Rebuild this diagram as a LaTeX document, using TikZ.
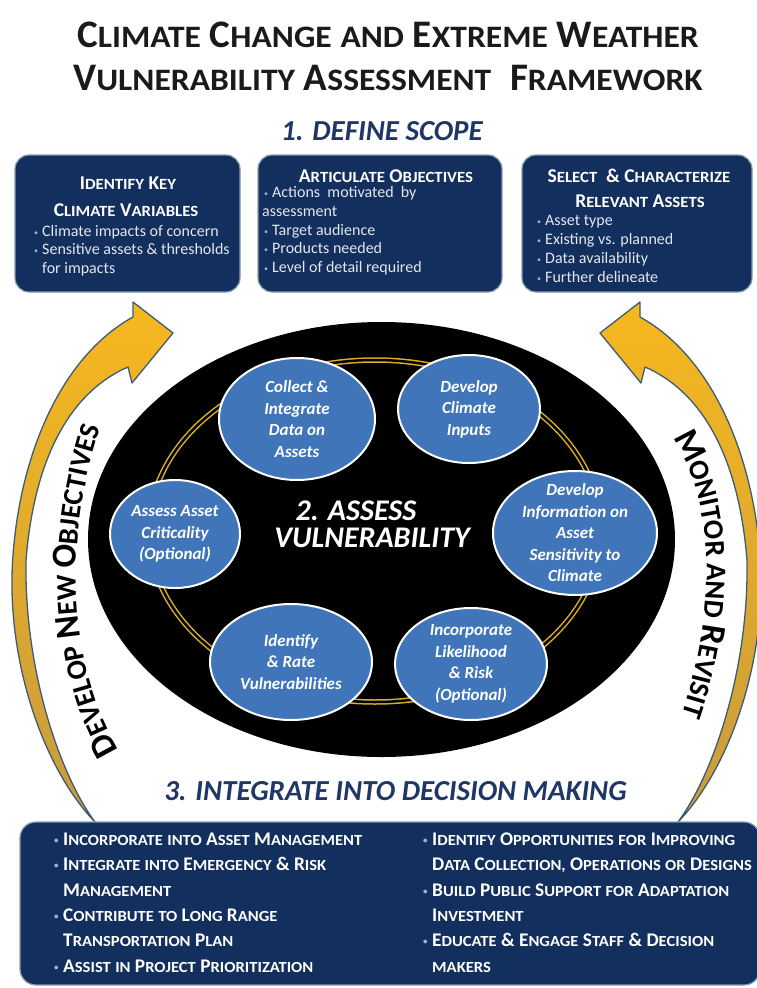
\documentclass[tikz,border=0pt]{standalone}
\usepackage{fontspec}
\setmainfont{Carlito}
\usetikzlibrary{shapes.geometric,decorations.text}
\definecolor{navy}{HTML}{132F5E}
\definecolor{boxedge}{HTML}{8A9BB3}
\definecolor{ellblue}{HTML}{4076B9}
\definecolor{ttl}{HTML}{1F3766}
\definecolor{titlecol}{HTML}{1A1A1A}
\definecolor{arrgold}{HTML}{F6B81E}
\definecolor{arrgoldmid}{HTML}{EDB025}
\definecolor{arrgolddk}{HTML}{C99B3E}
\definecolor{arrline}{HTML}{3E5C72}
\definecolor{ringgold}{HTML}{D9AE2B}
\definecolor{bulcol}{HTML}{9FB0C8}
\definecolor{txtlight}{HTML}{E3E7EE}
\newcommand\SC[2]{#1\scalebox{0.86}[0.8]{#2}}
\newcommand\SM[1]{\scalebox{0.86}[0.8]{#1}}
\newcommand\bul{\makebox[8pt][l]{\color{bulcol}\fontsize{8}{8}\selectfont\raisebox{1pt}{•}}}
\newcommand\bbul{\makebox[9pt][l]{\color{bulcol}\fontsize{9}{9}\selectfont\raisebox{2pt}{•}}}
\newcommand\arcbig{\fontsize{35}{35}\selectfont\bfseries}
\newcommand\arcsml{\fontsize{28.5}{28.5}\selectfont\bfseries}
\begin{document}
\begin{tikzpicture}[x=1pt,y=-1pt,
  topbox/.style={draw=boxedge,line width=1.2pt,fill=navy,rounded corners=14pt,inner sep=0pt},
  bluell/.style={ellipse,draw=white,line width=2pt,fill=ellblue,inner sep=0pt},
  elltxt/.style={text=white,font=\fontsize{17}{21.5}\selectfont\bfseries\itshape,align=center,inner sep=0pt},
  boxttl/.style={text=white,font=\fontsize{19.5}{19.5}\selectfont\bfseries,anchor=base,inner sep=0pt},
  boxbul/.style={text=txtlight,font=\fontsize{16}{16}\selectfont,anchor=base west,inner sep=0pt},
  bottxt/.style={text=white,font=\fontsize{19.3}{19.3}\selectfont\bfseries,anchor=base west,inner sep=0pt},
  headtxt/.style={text=ttl,font=\fontsize{29}{29}\selectfont\bfseries\itshape,anchor=base,inner sep=0pt},
  bigtitle/.style={text=titlecol,font=\fontsize{39}{39}\selectfont\bfseries,anchor=base,inner sep=0pt},
  centertxt/.style={text=white,font=\fontsize{30}{30}\selectfont\bfseries\itshape,anchor=base,inner sep=0pt}
]
\useasboundingbox (0,0) rectangle (756,988);
\fill[white] (0,0) rectangle (756,988);

% curved arrows
\foreach \s in {1,-1}{
\begin{scope}[shift={({(1-\s)*386.5},0)},xscale=\s]
\shadedraw[top color=arrgold,middle color=arrgoldmid,bottom color=arrgolddk,draw=arrline,line width=1.3pt,line join=round]
 (95,822) .. controls (45,770) and (10,670) .. (12,575)
 .. controls (15,470) and (55,360) .. (133,317)
 -- (133,302) -- (173,333) -- (132,383) -- (128,367)
 .. controls (75,390) and (35,450) .. (26,560)
 .. controls (24,670) and (60,775) .. (95,822) -- cycle;
\end{scope}}

% arc texts
\path[decorate,decoration={text along path,text align={left indent=2pt},
 text={|\arcbig|D|\arcsml|EVELOP |\arcbig|N|\arcsml|EW |\arcbig|O|\arcsml|BJECTIVES}}]
 (120,752) .. controls (70,670) and (58,540) .. (108,405);
\path[decorate,decoration={text along path,text align={left indent=9pt},
 text={|\arcbig|M|\arcsml|ONITOR AND |\arcbig|R|\arcsml|EVISIT}}]
 (668,430) .. controls (712,490) and (722,600) .. (680,720);

% assess ellipse
\fill[black] (381.5,539.5) ellipse [x radius=293.5,y radius=217.5];
\draw[ringgold,line width=1.5pt,double=black,double distance=2.5pt] (375,531) ellipse [x radius=226,y radius=171];

\node[bluell,minimum width=156pt,minimum height=122pt] (e1) at (297,419) {};
\node[elltxt] (e1t) at (e1) {Collect \&\\Integrate\\Data on\\Assets};
\node[bluell,minimum width=142pt,minimum height=108pt] (e2) at (469,409) {};
\node[elltxt] (e2t) at (e2) {Develop\\Climate\\Inputs};
\node[bluell,minimum width=164pt,minimum height=124pt] (e3) at (575,533) {};
\node[elltxt] (e3t) at (e3) {Develop\\Information on\\Asset\\Sensitivity to\\Climate};
\node[bluell,minimum width=152pt,minimum height=112pt] (e4) at (471,664) {};
\node[elltxt] (e4t) at (e4) {Incorporate\\Likelihood\\\& Risk\\(Optional)};
\node[bluell,minimum width=162pt,minimum height=116pt] (e5) at (291,662) {};
\node[elltxt] (e5t) at (e5) {Identify\\\& Rate\\Vulnerabilities};
\node[bluell,minimum width=130pt,minimum height=108pt] (e6) at (175,534) {};
\node[elltxt] (e6t) at (e6) {Assess Asset\\Criticality\\(Optional)};

\node[centertxt] (c1) at (356,520) {2. ASSESS};
\node[centertxt] (c2) at (372,547) {VULNERABILITY};

% titles
\node[bigtitle] (t1) at (388,47) {\SC{C}{LIMATE} \SC{C}{HANGE} \SM{AND} \SC{E}{XTREME} \SC{W}{EATHER}};
\node[bigtitle] (t2) at (388,90) {\SC{V}{ULNERABILITY} \SC{A}{SSESSMENT}\hspace{10pt} \SC{F}{RAMEWORK}};
\node[headtxt] (h1) at (382,140) {1. DEFINE SCOPE};
\node[headtxt] (h3) at (395.5,800) {3. INTEGRATE INTO DECISION MAKING};

% top boxes
\node[topbox,minimum width=225pt,minimum height=137pt] (b1) at (127.5,223.5) {};
\node[topbox,minimum width=244pt,minimum height=137pt] (b2) at (380,223.5) {};
\node[topbox,minimum width=230pt,minimum height=137pt] (b3) at (637,223.5) {};

\node[boxttl] (b1t1) at (128,189) {\SC{I}{DENTIFY} \SC{K}{EY}};
\node[boxttl] (b1t2) at (126,216) {\SC{C}{LIMATE} \SC{V}{ARIABLES}};
\node[boxbul] (b1a) at (34,236) {\bul Climate impacts of concern};
\node[boxbul] (b1b) at (34,254.5) {\bul Sensitive assets \& thresholds};
\node[boxbul] (b1c) at (42,273) {for impacts};

\node[boxttl] (b2t) at (386,182) {\SC{A}{RTICULATE} \SC{O}{BJECTIVES}};
\node[boxbul] (b2a) at (264,197) {\bul Actions\ \ motivated\ \ by};
\node[boxbul] (b2b) at (262,216) {assessment};
\node[boxbul] (b2c) at (264,235) {\bul Target audience};
\node[boxbul] (b2d) at (264,253.5) {\bul Products needed};
\node[boxbul] (b2e) at (264,272) {\bul Level of detail required};

\node[boxttl] (b3t1) at (639,182) {\SC{S}{ELECT}\ \ \& \SC{C}{HARACTERIZE}};
\node[boxttl] (b3t2) at (640,207) {\SC{R}{ELEVANT} \SC{A}{SSETS}};
\node[boxbul] (b3a) at (537,225) {\bul Asset type};
\node[boxbul] (b3b) at (537,244) {\bul Existing vs. planned};
\node[boxbul] (b3c) at (537,263.5) {\bul Data availability};
\node[boxbul] (b3d) at (537,282.5) {\bul Further delineate};

% bottom box
\node[topbox,rounded corners=16pt,minimum width=740pt,minimum height=163pt] (bb) at (390,903.5) {};
\node[bottxt] (l1) at (54,845) {\bbul\SC{I}{NCORPORATE} \SM{INTO} \SC{A}{SSET} \SC{M}{ANAGEMENT}};
\node[bottxt] (l2) at (54,870.5) {\bbul\SC{I}{NTEGRATE} \SM{INTO} \SC{E}{MERGENCY} \& \SC{R}{ISK}};
\node[bottxt] (l3) at (63,896) {\SC{M}{ANAGEMENT}};
\node[bottxt] (l4) at (54,921) {\bbul\SC{C}{ONTRIBUTE} \SM{TO} \SC{L}{ONG} \SC{R}{ANGE}};
\node[bottxt] (l5) at (63,946.5) {\SC{T}{RANSPORTATION} \SC{P}{LAN}};
\node[bottxt] (l6) at (54,972) {\bbul\SC{A}{SSIST} \SM{IN} \SC{P}{ROJECT} \SC{P}{RIORITIZATION}};
\node[bottxt] (r1) at (423,845) {\bbul\SC{I}{DENTIFY} \SC{O}{PPORTUNITIES} \SM{FOR} \SC{I}{MPROVING}};
\node[bottxt] (r2) at (432,870.5) {\SC{D}{ATA} \SC{C}{OLLECTION,} \SC{O}{PERATIONS} \SM{OR} \SC{D}{ESIGNS}};
\node[bottxt] (r3) at (423,896) {\bbul\SC{B}{UILD} \SC{P}{UBLIC} \SC{S}{UPPORT} \SM{FOR} \SC{A}{DAPTATION}};
\node[bottxt] (r4) at (432,921) {\SC{I}{NVESTMENT}};
\node[bottxt] (r5) at (423,946.5) {\bbul\SC{E}{DUCATE} \& \SC{E}{NGAGE} \SC{S}{TAFF} \& \SC{D}{ECISION}};
\node[bottxt] (r6) at (432,972) {\SM{MAKERS}};
\end{tikzpicture}
\end{document}
